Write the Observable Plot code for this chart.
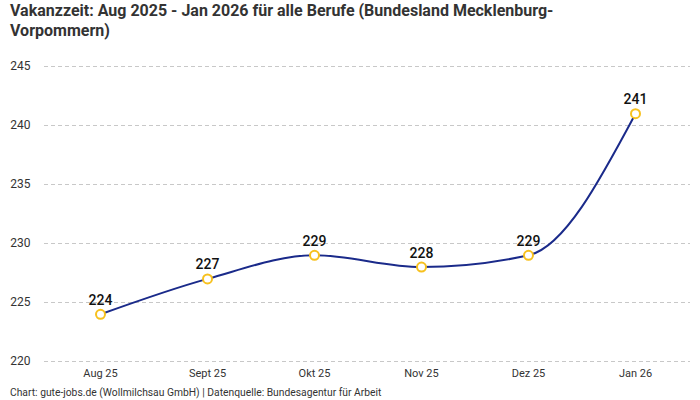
<!DOCTYPE html>
<html><head><meta charset="utf-8">
<script src="https://cdn.jsdelivr.net/npm/d3@7"></script>
<script src="https://cdn.jsdelivr.net/npm/@observablehq/plot@0.6"></script>
<style>
body{margin:0;background:#fff;font-family:Roboto,"Noto Sans",sans-serif;}
#wrap{width:700px;height:400px;position:relative;overflow:hidden;}
#title{position:absolute;left:10px;top:1px;width:600px;font-size:16px;font-weight:bold;line-height:20px;color:#333;}
#chart{position:absolute;left:0;top:44px;}
#cap{position:absolute;left:10px;top:386px;font-size:10.3px;color:#333;}
</style></head><body>
<div id="wrap">
<div id="title">Vakanzzeit: Aug 2025 - Jan 2026 für alle Berufe (Bundesland Mecklenburg-Vorpommern)</div>
<div id="chart"></div>
<div id="cap">Chart: gute-jobs.de (Wollmilchsau GmbH) | Datenquelle: Bundesagentur für Arbeit</div>
</div>
<script>
const months = ["Aug 25","Sept 25","Okt 25","Nov 25","Dez 25","Jan 26"];
const values = [224,227,229,228,229,241];
const yTicks = [220,225,230,235,240,245];
const data = months.map((m,i)=>({m, v: values[i]}));
const chart = Plot.plot({
  width: 700, height: 340,
  marginLeft: 44, marginRight: 10, marginTop: 22, marginBottom: 23,
  style: {fontFamily: "Roboto, 'Noto Sans', sans-serif", fontSize: "12px", color: "#333"},
  x: {type: "point", domain: months, padding: 0.5, label: null},
  y: {domain: [220,245], ticks: yTicks, label: null},
  marks: [
    Plot.ruleY(yTicks, {stroke: "#c8c8c8", strokeDasharray: "4,3"}),
    Plot.axisY({ticks: yTicks, tickSize: 0, tickPadding: 14, textAnchor: "end", fontSize: 12}),
    Plot.axisX({tickSize: 0, tickPadding: 8, fontSize: 11}),
    Plot.line(data, {x: "m", y: "v", curve: "monotone-x", stroke: "#1a2a8a", strokeWidth: 2}),
    Plot.dot(data, {x: "m", y: "v", r: 4.5, stroke: "#f7c11e", strokeWidth: 2, fill: "white"}),
    Plot.text(data, {x: "m", y: "v", text: d => String(d.v), dy: -14, fontSize: 14, fontWeight: 500, fill: "#111"})
  ]
});
document.getElementById("chart").appendChild(chart);
</script>
</body></html>
